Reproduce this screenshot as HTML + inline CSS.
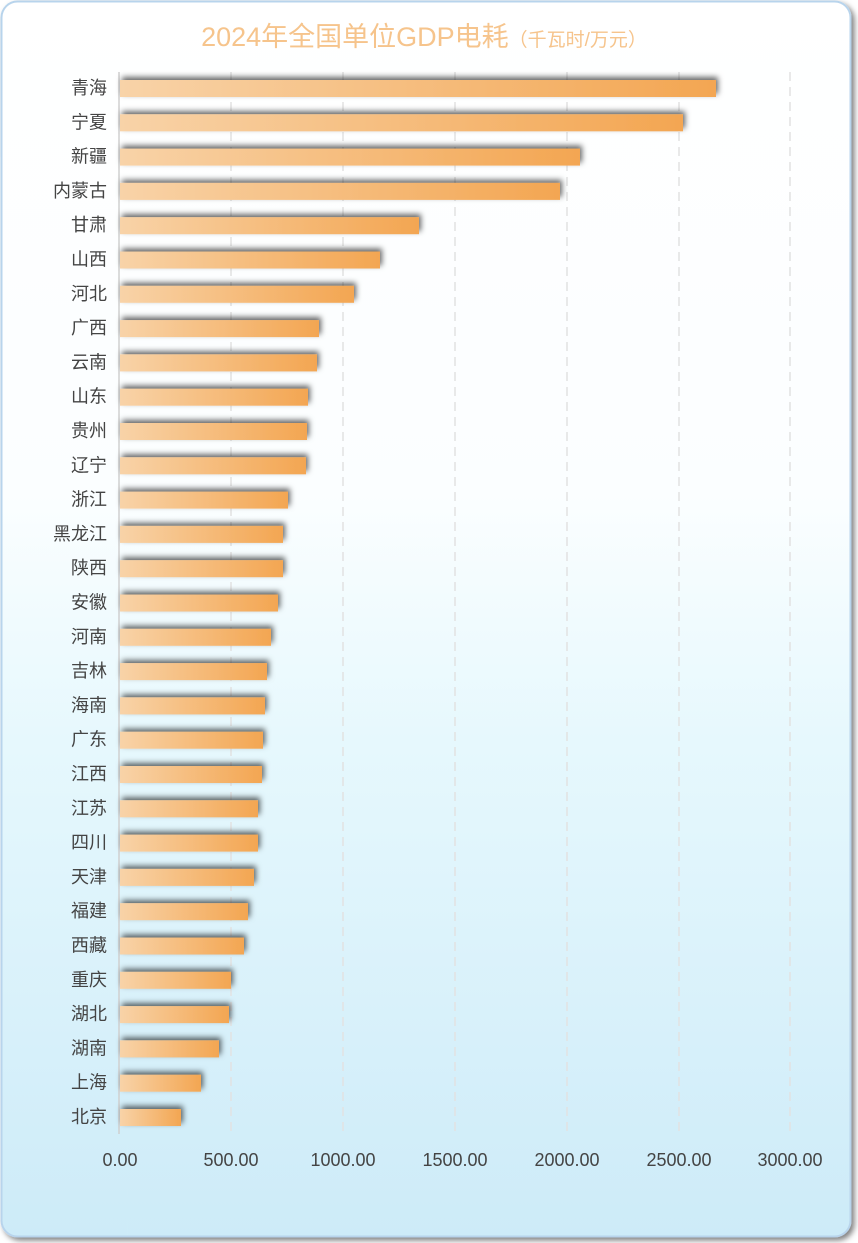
<!DOCTYPE html>
<html><head><meta charset="utf-8"><style>
html,body{margin:0;padding:0;width:858px;height:1243px;background:#fff;overflow:hidden}
svg text{font-family:"Liberation Sans","Noto Sans CJK SC",sans-serif}
</style></head><body>
<svg width="858" height="1243" xmlns="http://www.w3.org/2000/svg">
<defs>
<linearGradient id="bg" x1="0" y1="0" x2="0" y2="1">
<stop offset="0" stop-color="#ffffff"/><stop offset="0.4" stop-color="#fbfeff"/><stop offset="0.6" stop-color="#e6f8fd"/><stop offset="1" stop-color="#cdebf8"/></linearGradient>
<linearGradient id="bar" x1="0" y1="0" x2="1" y2="0">
<stop offset="0" stop-color="#f8d3a8"/><stop offset="1" stop-color="#f3a652"/></linearGradient>
<filter id="sh" x="-10%" y="-80%" width="120%" height="260%"><feDropShadow dx="2" dy="-3" stdDeviation="3" flood-color="#000" flood-opacity="0.6"/></filter>
<filter id="cs" x="-5%" y="-5%" width="110%" height="110%"><feDropShadow dx="3" dy="3" stdDeviation="3" flood-color="#000" flood-opacity="0.5"/></filter>
</defs>
<rect x="1.5" y="1.5" width="849" height="1235" rx="16" fill="url(#bg)" stroke="#b8d4ec" stroke-width="2" filter="url(#cs)"/>
<text x="424" y="46" text-anchor="middle" fill="#f6c48c" font-size="27">2024年全国单位GDP电耗<tspan font-size="19">（千瓦时/万元）</tspan></text>
<g stroke="#e2e2e2" stroke-width="1.5" stroke-dasharray="9,6">
<line x1="231" y1="72" x2="231" y2="1132"/><line x1="343" y1="72" x2="343" y2="1132"/><line x1="455" y1="72" x2="455" y2="1132"/><line x1="567" y1="72" x2="567" y2="1132"/><line x1="679" y1="72" x2="679" y2="1132"/><line x1="790" y1="72" x2="790" y2="1132"/>
</g>
<line x1="119" y1="72" x2="119" y2="1134" stroke="#d0d0d0" stroke-width="1.5"/>
<g id="bars" filter="url(#sh)"></g>
<g id="labs" font-size="18" fill="#444" text-anchor="end"></g>
<g font-size="18" fill="#444" text-anchor="middle">
<text x="120" y="1166">0.00</text><text x="231" y="1166">500.00</text><text x="343" y="1166">1000.00</text><text x="455" y="1166">1500.00</text><text x="567" y="1166">2000.00</text><text x="679" y="1166">2500.00</text><text x="790" y="1166">3000.00</text>
</g>
</svg>
<script>
var d=[["青海",716],["宁夏",683],["新疆",580],["内蒙古",560],["甘肃",419],["山西",380],["河北",354],["广西",319],["云南",317],["山东",308],["贵州",307],["辽宁",306],["浙江",288],["黑龙江",283],["陕西",283],["安徽",278],["河南",271],["吉林",267],["海南",265],["广东",263],["江西",262],["江苏",258],["四川",258],["天津",254],["福建",248],["西藏",244],["重庆",231],["湖北",229],["湖南",219],["上海",201],["北京",181]];
var ns="http://www.w3.org/2000/svg",b=document.getElementById("bars"),l=document.getElementById("labs");
d.forEach(function(r,i){var cy=88+i*34.3;
var e=document.createElementNS(ns,"rect");e.setAttribute("x",120);e.setAttribute("y",cy-8);e.setAttribute("width",r[1]-120);e.setAttribute("height",17);e.setAttribute("fill","url(#bar)");b.appendChild(e);
var t=document.createElementNS(ns,"text");t.setAttribute("x",107);t.setAttribute("y",cy+6);t.textContent=r[0];l.appendChild(t);});
</script>
</body></html>
